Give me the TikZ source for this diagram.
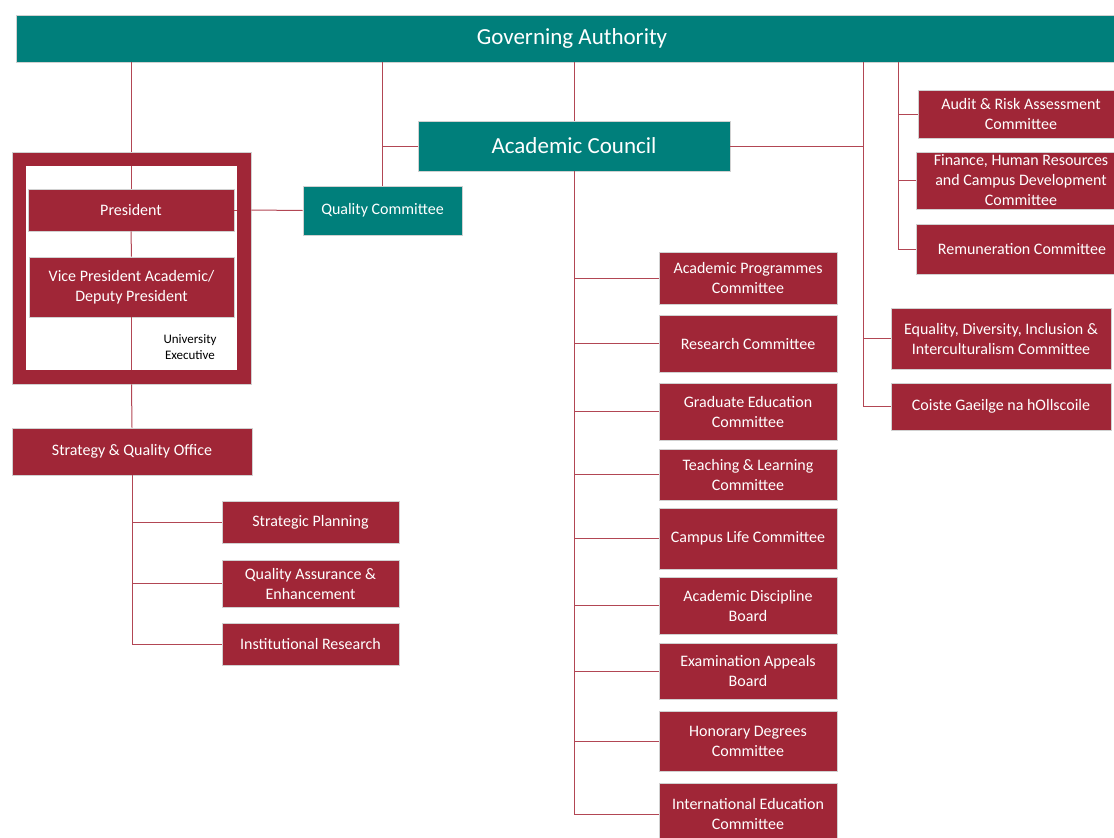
\documentclass[tikz,border=0pt]{standalone}
\usepackage{fontspec}
\setmainfont{Carlito}
\definecolor{govteal}{RGB}{0,127,123}
\definecolor{unimaroon}{RGB}{160,38,55}
\definecolor{linkred}{RGB}{178,70,84}

\begin{document}
\begin{tikzpicture}[x=1pt, y=-1pt,
    box/.style={rectangle, draw=black!18, line width=0.8pt, text=white, align=center,
      inner sep=0pt, font=\fontsize{16}{20}\selectfont},
    mbox/.style={box, fill=unimaroon, minimum width=178},
    tbox/.style={box, fill=govteal},
    bigtext/.style={font=\fontsize{23}{28}\selectfont},
    link/.style={draw=linkred, line width=1pt}]
    \useasboundingbox (0,0) rectangle (1114,838);
    \clip (0,0) rectangle (1114,838);

    % Top level
    \node[tbox, bigtext, minimum width=1112, minimum height=47] (ga) at (572,38.5) {Governing Authority};
    \node[tbox, bigtext, minimum width=312, minimum height=50] (ac) at (574,146) {Academic Council};
    \node[tbox, minimum width=159, minimum height=49] (qc) at (382.5,210.5) {Quality Committee};

    % University Executive frame
    \node[fill=unimaroon, draw=black!18, line width=0.8pt, minimum width=239, minimum height=232] (uexec) at (131.5,268) {};
    \node[fill=white, minimum width=211, minimum height=204] (uinner) at (131.5,268) {};
    \node[mbox, minimum width=206, minimum height=42] (pres) at (131,210) {President};
    \node[mbox, minimum width=205, minimum height=60] (vp) at (131.5,287) {Vice President Academic/\\Deputy President};
    \node[align=center, font=\fontsize{13}{16}\selectfont] (uelabel) at (190,347) {University\\Executive};

    % Strategy & Quality Office
    \node[mbox, minimum width=240, minimum height=47] (sqo) at (132,451.5) {Strategy \& Quality Office};
    \node[mbox, minimum width=177, minimum height=42] (sp) at (310.5,522) {Strategic Planning};
    \node[mbox, minimum width=177, minimum height=47] (qa) at (310.5,583.5) {Quality Assurance \&\\Enhancement};
    \node[mbox, minimum width=177, minimum height=42] (ir) at (310.5,644) {Institutional Research};

    % Academic Council committees
    \node[mbox, minimum height=52] (apc) at (748,278) {Academic Programmes\\Committee};
    \node[mbox, minimum height=57] (rc) at (748,343.5) {Research Committee};
    \node[mbox, minimum height=57] (gec) at (748,411.5) {Graduate Education\\Committee};
    \node[mbox, minimum height=51] (tlc) at (748,474.5) {Teaching \& Learning\\Committee};
    \node[mbox, minimum height=61] (clc) at (748,538.5) {Campus Life Committee};
    \node[mbox, minimum height=57] (adb) at (748,605.5) {Academic Discipline\\Board};
    \node[mbox, minimum height=56] (eab) at (748,671) {Examination Appeals\\Board};
    \node[mbox, minimum height=60] (hdc) at (748,741) {Honorary Degrees\\Committee};
    \node[mbox, minimum height=62] (iec) at (748,814) {International Education\\Committee};

    % Governing Authority committees
    \node[mbox, minimum width=206, minimum height=48] (audit) at (1021,114) {Audit \& Risk Assessment\\Committee};
    \node[mbox, minimum width=210, minimum height=57] (fin) at (1021,180.5) {Finance, Human Resources\\and Campus Development\\Committee};
    \node[mbox, minimum width=212, minimum height=50] (rem) at (1022,249) {Remuneration Committee};
    \node[mbox, minimum width=220, minimum height=61] (eq) at (1001,338.5) {Equality, Diversity, Inclusion \&\\Interculturalism Committee};
    \node[mbox, minimum width=220, minimum height=47] (coiste) at (1001,406.5) {Coiste Gaeilge na hOllscoile};

    \coordinate (gaR) at (863,62);
    \coordinate (gaB) at (898,62);

    % Links
    \draw[link] (pres.north |- ga.south) -- (pres.north |- uexec.north);
    \draw[link] (pres.north |- uinner.north) -- (pres.north);
    \draw[link] (qc.north |- ga.south) -- (qc.north);
    \draw[link] (qc.north |- ac.west) -- (ac.west);
    \draw[link] (ac.north |- ga.south) -- (ac.north);
    \draw[link] (pres.east) -- (pres.east -| uinner.east);
    \draw[link] (pres.east -| uexec.east) -- (qc.west);
    \draw[link] (pres.south) -- (vp.north);
    \draw[link] (vp.south) -- (vp.south |- uinner.south);
    \draw[link] (vp.south |- uexec.south) -- (sqo.north);
    \foreach \n in {sp, qa, ir}
        \draw[link] (sqo.south) |- (\n.west);
    \foreach \n in {apc, rc, gec, tlc, clc, adb, eab, hdc, iec}
        \draw[link] (ac.south) |- (\n.west);
    \draw[link] (ac.east) -- (ac.east -| gaR);
    \foreach \n in {eq, coiste}
        \draw[link] (gaR) |- (\n.west);
    \foreach \n in {audit, fin, rem}
        \draw[link] (gaB) |- (\n.west);
\end{tikzpicture}
\end{document}
